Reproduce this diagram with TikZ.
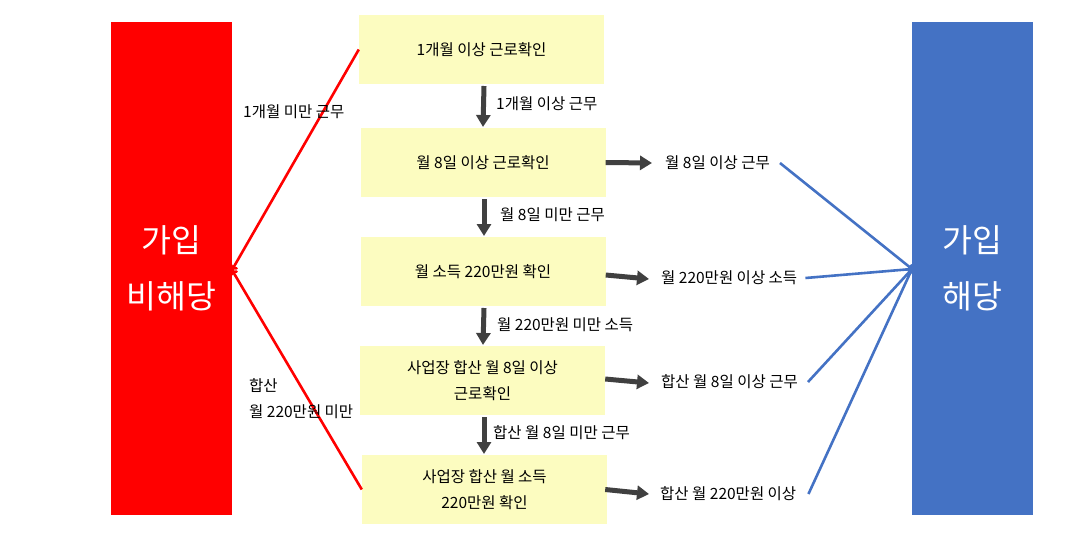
\documentclass[tikz,border=0pt]{standalone}
\usepackage{fontspec}
\setmainfont{Noto Sans CJK KR}
\usetikzlibrary{arrows.meta}
\definecolor{boxyellow}{HTML}{FCFCC0}
\definecolor{myred}{HTML}{FF0000}
\definecolor{myblue}{HTML}{4472C4}
\definecolor{arrowgray}{HTML}{404040}
\tikzset{
  stepbox/.style={fill=boxyellow, draw=none, minimum width=245pt, minimum height=69pt, inner sep=0pt, align=center, font=\fontsize{15.5}{26}\selectfont},
  bigbar/.style={draw=none, minimum width=121pt, minimum height=493pt, inner sep=0pt, align=center, text=white, font=\fontsize{32.5}{56}\selectfont},
  lbl/.style={anchor=west, inner sep=0pt, align=left, font=\fontsize{15.5}{26}\selectfont},
  grayarrow/.style={draw=arrowgray, line width=5pt, -{Triangle[width=14pt,length=12pt]}},
  redline/.style={draw=myred, line width=2.6pt, -{To[length=5pt,width=9pt]}},
  blueline/.style={draw=myblue, line width=2.6pt, -{To[length=4pt,width=8pt]}},
}
\begin{document}
\begin{tikzpicture}[x=1pt,y=-1pt]
\useasboundingbox (0,0) rectangle (1081,551);
% side bars
\node[bigbar, fill=myred] (no) at (171.5,268.5) {가입\\비해당};
\node[bigbar, fill=myblue] (yes) at (972.5,268.5) {가입\\해당};
% step boxes
\node[stepbox] (b1) at (481.5,49.5) {1개월 이상 근로확인};
\node[stepbox] (b2) at (483,162.5) {월 8일 이상 근로확인};
\node[stepbox] (b3) at (483,271.5) {월 소득 220만원 확인};
\node[stepbox] (b4) at (482.5,380.5) {사업장 합산 월 8일 이상\\근로확인};
\node[stepbox] (b5) at (484.5,489.5) {사업장 합산 월 소득\\220만원 확인};
% down arrows
\draw[grayarrow] (484,86) -- (483,127);
\draw[grayarrow] (484,199) -- (484,236);
\draw[grayarrow] (484,308) -- (483,345);
\draw[grayarrow] (484,417) -- (484,454);
% down labels
\node[lbl] (d1) at (496,104) {1개월 이상 근무};
\node[lbl] (d2) at (500,215) {월 8일 미만 근무};
\node[lbl] (d3) at (497,325) {월 220만원 미만 소득};
\node[lbl] (d4) at (493,433) {합산 월 8일 미만 근무};
% right labels
\node[lbl] (r1) at (665,163) {월 8일 이상 근무};
\node[lbl] (r2) at (661,278) {월 220만원 이상 소득};
\node[lbl] (r3) at (661,382) {합산 월 8일 이상 근무};
\node[lbl] (r4) at (660,494) {합산 월 220만원 이상};
% right arrows
\draw[grayarrow] (b2.east) -- ([xshift=-13pt]r1.west);
\draw[grayarrow] ([yshift=-3.5pt]b3.east) -- ([xshift=-12pt,yshift=-1pt]r2.west);
\draw[grayarrow] ([yshift=1.5pt]b4.east) -- ([xshift=-12pt,yshift=-1pt]r3.west);
\draw[grayarrow] ([xshift=-2pt]b5.east) -- ([xshift=-11pt]r4.west);
% blue lines
\coordinate (tgt) at (912,269);
\draw[blueline] ([xshift=10pt]r1.east) -- (tgt);
\draw[blueline] ([xshift=8pt]r2.east) -- (tgt);
\draw[blueline] ([xshift=10pt]r3.east) -- (tgt);
\draw[blueline] ([xshift=12pt]r4.east) -- (tgt);
% red lines
\coordinate (rtgt) at (232,270);
\draw[redline] (b1.west) -- (rtgt);
\draw[redline] (b5.west) -- (rtgt);
\node[lbl] (l1) at (243,112) {1개월 미만 근무};
\node[lbl] (l2) at (249,399) {합산\\월 220만원 미만};
\end{tikzpicture}
\end{document}
